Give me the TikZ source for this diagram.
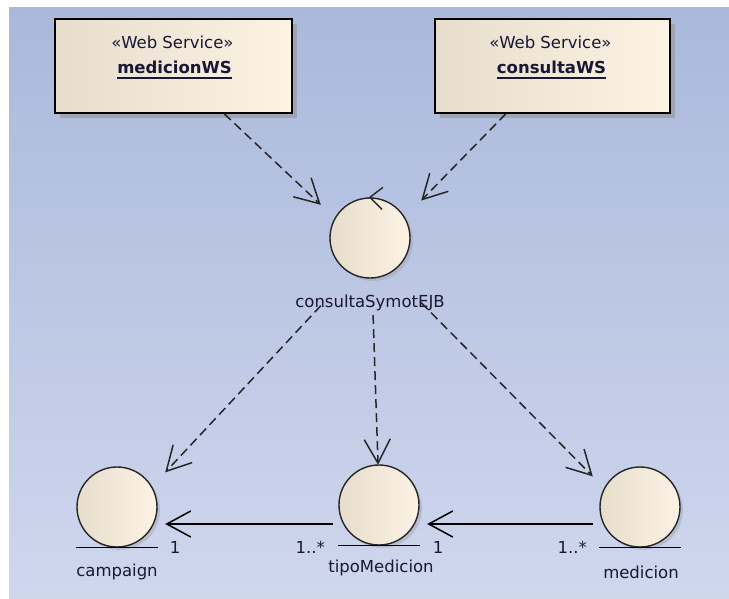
\documentclass[tikz,border=0pt]{standalone}
\usepackage{fontspec}
\setmainfont{DejaVu Sans}
\usetikzlibrary{arrows.meta,calc}
\definecolor{bgtop}{RGB}{170,184,219}
\definecolor{bgbot}{RGB}{207,215,237}
\definecolor{fillL}{RGB}{230,221,205}
\definecolor{fillR}{RGB}{252,243,228}
\definecolor{shadowc}{RGB}{160,163,178}
\definecolor{ink}{RGB}{24,24,52}
\begin{document}
\begin{tikzpicture}[x=1pt,y=-1pt,
  lbl/.style={font=\fontsize{16.5}{19}\selectfont, text=ink, inner sep=0pt},
  namelbl/.style={lbl, font=\fontsize{16.5}{19}\selectfont\bfseries},
  wsbox/.style={draw=black, line width=1.6pt, left color=fillL, right color=fillR,
                minimum width=237pt, minimum height=94pt, inner sep=0pt},
  ball/.style={circle, draw=black!85, line width=1.4pt, left color=fillL, right color=fillR,
               minimum size=80pt, inner sep=0pt},
  bound/.style={rectangle, inner sep=0pt},
  head/.style={-{Straight Barb[length=24pt,width=26pt,line width=1.5pt]}},
  dep/.style={head, line width=1.5pt, dash pattern=on 9pt off 5pt, draw=black!85},
  assoc/.style={head, line width=1.5pt, draw=black}]

\useasboundingbox (0,0) rectangle (729,598);
\fill[white] (0,0) rectangle (729,598);
\shade[top color=bgtop, bottom color=bgbot] (9,7) rectangle (729,598);

% drop shadows of the two web service boxes
\fill[shadowc] (60,24) rectangle (297,118);
\fill[shadowc] (440,24) rectangle (675,118);

% web service boxes
\node[wsbox] (mws) at (173.5,66) {};
\node[wsbox, minimum width=235pt] (cws) at (552.5,66) {};
\node[lbl] (mwsst) at (172.5,42) {«Web Service»};
\node[namelbl] (mwsn) at (174.5,67) {medicionWS};
\draw[ink, line width=1.4pt] ($(mwsn.base west)+(0,5)$) -- ($(mwsn.base east)+(0,5)$);
\node[lbl] (cwsst) at (550.5,42) {«Web Service»};
\node[namelbl] (cwsn) at (551.5,67) {consultaWS};
\draw[ink, line width=1.4pt] ($(cwsn.base west)+(0,5)$) -- ($(cwsn.base east)+(0,5)$);

% soft shadows of the round elements
\foreach \cx/\cy in {370/238, 117/507, 379/505, 640/507}
  \fill[shadowc, opacity=0.45] (\cx+3,\cy+3) circle (40pt);

% control element
\node[ball] (ejb) at (370,238) {};
\draw[black!85, line width=1.4pt] ($(ejb.north)+(13,-10)$) -- (ejb.north) -- ($(ejb.north)+(12,12)$);
\node[lbl] (ejbl) at (370,303) {consultaSymotEJB};

% entity elements
\node[ball] (camp) at (117,507) {};
\draw[black, line width=1.4pt] ($(camp.south)+(-41,0)$) -- ($(camp.south)+(41,0)$);
\node[lbl] (campl) at (117,572) {campaign};

\node[ball] (tipo) at (379,505) {};
\draw[black, line width=1.4pt] ($(tipo.south)+(-41,0)$) -- ($(tipo.south)+(41,0)$);
\node[lbl] (tipol) at (381,568) {tipoMedicion};

\node[ball] (med) at (640,507) {};
\draw[black, line width=1.4pt] ($(med.south)+(-41,0)$) -- ($(med.south)+(41,0)$);
\node[lbl] (medl) at (641,572) {medicion};

% element outlines used as connector ends
\node[bound, minimum width=100pt, minimum height=126pt] (ejbB) at (371,252) {};
\node[bound, minimum width=96pt, minimum height=114pt] (campB) at (117,524) {};
\node[bound, minimum width=94pt, minimum height=118pt] (tipoB) at (380,524) {};
\node[bound, minimum width=94pt, minimum height=114pt] (medB) at (640,524) {};

% dependencies
\draw[dep] (mws) -- (ejbB);
\draw[dep] (cws) -- (ejbB);
\draw[dep] (ejbB) -- (campB);
\draw[dep] (ejbB) -- (tipoB);
\draw[dep] (ejbB) -- (medB);

% associations
\draw[assoc] (tipoB) -- (campB);
\draw[assoc] (medB) -- (tipoB);

% multiplicities
\node[lbl] (m1) at (175,547) {1};
\node[lbl, anchor=east] (m2) at (325,547) {1..*};
\node[lbl] (m3) at (438,547) {1};
\node[lbl, anchor=east] (m4) at (587,547) {1..*};
\end{tikzpicture}
\end{document}
